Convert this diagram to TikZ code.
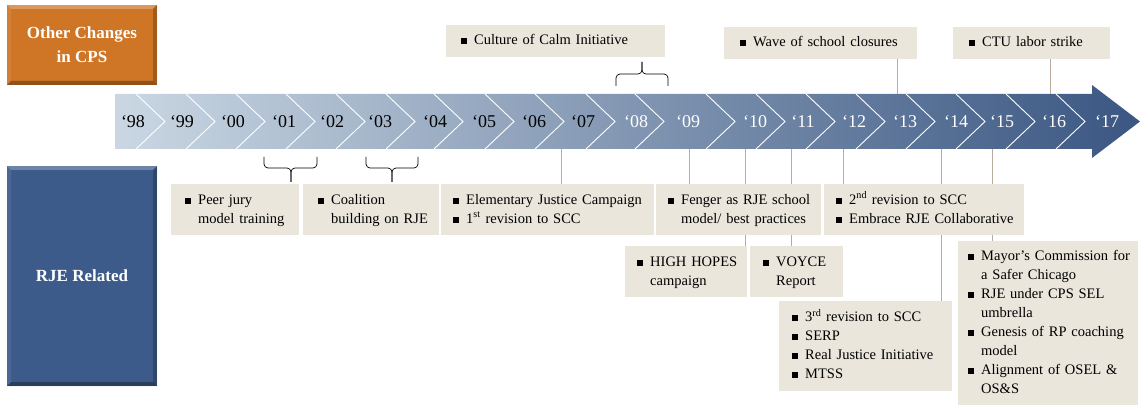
\documentclass[tikz,border=0pt]{standalone}
\usepackage{fontspec}
\setmainfont{Liberation Serif}
\usetikzlibrary{positioning}
\definecolor{cpsorange}{RGB}{207,117,38}
\definecolor{rjeblue}{RGB}{61,91,138}
\definecolor{boxbeige}{RGB}{234,230,220}
\definecolor{ticktan}{RGB}{185,172,158}
\definecolor{bandlight}{RGB}{202,215,227}
\definecolor{banddark}{RGB}{58,86,130}
\newcommand{\blt}{\rule[0.5pt]{6pt}{6pt}}
\newcommand{\items}[1]{\begin{tabular}{@{}l@{\hspace{7pt}}l@{}}#1\end{tabular}}
\tikzset{every node/.style={font=\fontsize{14.5}{19}\selectfont},
         titlebox/.style={minimum width=150pt, inner sep=0pt, align=center, text=white,
                           font=\bfseries\fontsize{17}{24}\selectfont,
                           path picture={
                             \fill[white,opacity=.25] (path picture bounding box.north west) -- (path picture bounding box.north east)
                               -- ([shift={(-4pt,-4pt)}]path picture bounding box.north east) -- ([shift={(4pt,-4pt)}]path picture bounding box.north west) -- cycle;
                             \fill[black,opacity=.3] (path picture bounding box.south west) -- (path picture bounding box.south east)
                               -- ([shift={(-4pt,4pt)}]path picture bounding box.south east) -- ([shift={(4pt,4pt)}]path picture bounding box.south west) -- cycle;
                             \fill[black,opacity=.22] (path picture bounding box.north east) -- (path picture bounding box.south east)
                               -- ([shift={(-4pt,4pt)}]path picture bounding box.south east) -- ([shift={(-4pt,-4pt)}]path picture bounding box.north east) -- cycle;
                             \fill[white,opacity=.08] (path picture bounding box.north west) -- (path picture bounding box.south west)
                               -- ([shift={(4pt,4pt)}]path picture bounding box.south west) -- ([shift={(4pt,-4pt)}]path picture bounding box.north west) -- cycle;
                           }},
         eventbox/.style={fill=boxbeige, anchor=north west, inner xsep=13pt, inner ysep=0pt, align=left},
         year/.style={font=\fontsize{18}{20}\selectfont, inner sep=0pt},
         chev/.style={draw=white, line width=0.9pt},
         tick/.style={draw=ticktan, line width=0.8pt},
         brk/.style={draw, line width=0.7pt, rounded corners=4pt},
        }

\begin{document}
\begin{tikzpicture}[x=1pt, y=-1pt]
        \useasboundingbox (0,0) rectangle (1140,406);

        % side labels
        \node[titlebox, fill=cpsorange, minimum height=80pt](cps)at(82,45){Other Changes\\in CPS};
        \node[titlebox, fill=rjeblue, minimum height=220pt](rje)at(82,276){RJE Related};

        % timeline band
        \shade[left color=bandlight, right color=banddark]
            (115,94) -- (1092,94) -- (1092,85) -- (1140,121.5) -- (1092,158) -- (1092,149) -- (115,149) -- cycle;
        \foreach \a in {165,215,265,315,365,415,463,514,564,615,664,735,785,835,885,935,985,1035,1085}
            \draw[chev] (\a-29,94) -- (\a,121.5) -- (\a-29,149);
        \foreach \x/\yr/\c in {133/98/black, 182/99/black, 233/00/black, 284/01/black, 332/02/black,
                               380/03/black, 435/04/black, 484/05/black, 534/06/black, 583/07/black,
                               636/08/white, 688/09/white, 755/10/white, 803/11/white, 854/12/white,
                               905/13/white, 956/14/white, 1002/15/white, 1054/16/white, 1107/17/white}
            \node[year, text=\c](y\yr)at(\x,122){‘\yr};

        % other changes in CPS
        \node[eventbox, inner xsep=15pt, text width=189pt, minimum height=32pt](calm)at(446,25){\items{\blt & Culture of Calm Initiative}};
        \node[eventbox, inner xsep=16pt, text width=161pt, minimum height=32pt](wave)at(724,27){\items{\blt & Wave of school closures}};
        \node[eventbox, inner xsep=16pt, text width=125pt, minimum height=32pt](ctu)at(953,27){\items{\blt & CTU labor strike}};

        % RJE related
        \node[eventbox, inner xsep=14pt, text width=100pt, minimum height=51pt](peer)at(171,184){\items{\blt & Peer jury\\ & model training}};
        \node[eventbox, inner xsep=15pt, text width=106pt, minimum height=51pt](coal)at(303,184){\items{\blt & Coalition\\ & building on RJE}};
        \node[eventbox, inner xsep=12pt, text width=189pt, minimum height=51pt](elem)at(441,184){\items{\blt & Elementary Justice Campaign\\ \blt & 1\textsuperscript{st} revision to SCC}};
        \node[eventbox, inner xsep=12pt, text width=141pt, minimum height=51pt](feng)at(656,184){\items{\blt & Fenger as RJE school\\ & model/ best practices}};
        \node[eventbox, inner xsep=12pt, text width=176pt, minimum height=51pt](second)at(824,184){\items{\blt & 2\textsuperscript{nd} revision to SCC\\ \blt & Embrace RJE Collaborative}};
        \node[eventbox, inner xsep=12pt, text width=98pt, minimum height=51pt](hope)at(625,246){\items{\blt & HIGH HOPES\\ & campaign}};
        \node[eventbox, inner xsep=13pt, text width=67pt, minimum height=51pt](voyce)at(750,246){\items{\blt & VOYCE\\ & Report}};
        \node[eventbox, inner xsep=13pt, text width=147pt, minimum height=90pt](third)at(779,301){\items{\blt & 3\textsuperscript{rd} revision to SCC\\ \blt & SERP\\ \blt & Real Justice Initiative\\ \blt & MTSS}};
        \node[eventbox, inner xsep=10pt, text width=160pt, minimum height=164pt](mayor)at(958,241){\items{\blt & Mayor’s Commission for\\ & a Safer Chicago\\ \blt & RJE under CPS SEL\\ & umbrella\\ \blt & Genesis of RP coaching\\ & model\\ \blt & Alignment of OSEL \&\\ & OS\&S}};

        % connectors to the band
        \coordinate(t13)at(897,94);
        \coordinate(t16)at(1050,94);
        \coordinate(t07)at(561,149);
        \coordinate(t09a)at(689,149);
        \coordinate(t09b)at(745,149);
        \coordinate(t10)at(791,149);
        \coordinate(t12)at(843,149);
        \coordinate(t14)at(941,149);
        \coordinate(t15)at(992,149);

        \draw[tick](t13)--(t13|-wave.south);
        \draw[tick](t16)--(t16|-ctu.south);
        \draw[tick](t07)--(t07|-elem.north);
        \draw[tick](t09a)--(t09a|-feng.north);
        \draw[tick](t09b)--(t09b|-feng.north) (t09b|-feng.south)--(t09b|-hope.north);
        \draw[tick](t10)--(t10|-feng.north) (t10|-feng.south)--(t10|-voyce.north);
        \draw[tick](t12)--(t12|-second.north);
        \draw[tick](t14)--(t14|-second.north) (t14|-second.south)--(t14|-third.north);
        \draw[tick](t15)--(t15|-second.north) (t15|-second.south)--(t15|-mayor.north);

        % brackets
        \draw[brk](264,157) |- (291,168) -- (291,182);
        \draw[brk](317,157) |- (291,168) -- (291,182);
        \draw[brk](366,157) |- (392,168) -- (392,182);
        \draw[brk](418,157) |- (392,168) -- (392,182);
        \draw[brk](616,86) |- (642,74) -- (642,62);
        \draw[brk](668,86) |- (642,74) -- (642,62);
    \end{tikzpicture}
\end{document}
